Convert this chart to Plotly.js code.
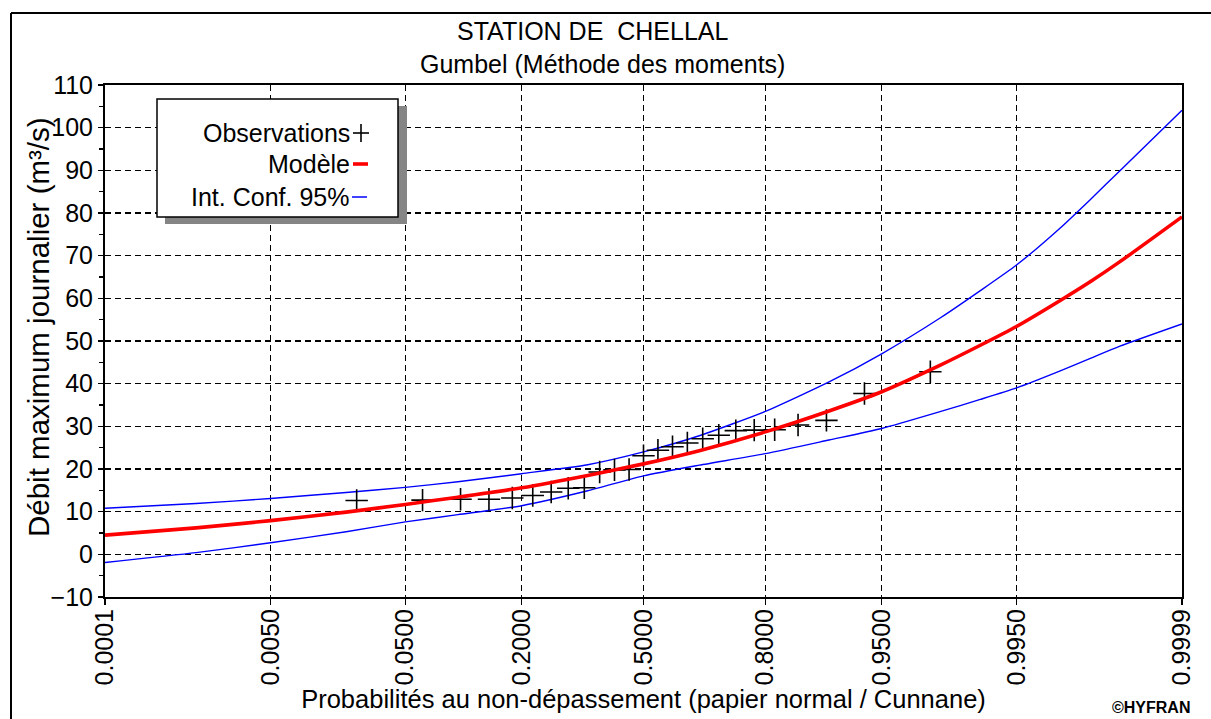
<!DOCTYPE html>
<html>
<head>
<meta charset="utf-8">
<script src="https://cdn.plot.ly/plotly-3.0.1.min.js"></script>
<style>
  html, body { margin: 0; padding: 0; background: #fff; }
  #chart { width: 1211px; height: 719px; }
</style>
</head>
<body>
<div id="chart"></div>
<script>
// ---------- DATA ----------
// x-axis tick probabilities and labels (normal probability paper)
const tickProbs  = [0.0001, 0.005, 0.05, 0.2, 0.5, 0.8, 0.95, 0.995, 0.9999];
const tickLabels = ["0.0001", "0.0050", "0.0500", "0.2000", "0.5000", "0.8000", "0.9500", "0.9950", "0.9999"];

// Observations (Cunnane plotting positions, n = 25) and annual max daily discharge (m3/s)
const obsProb = [0.0238, 0.0635, 0.1032, 0.1429, 0.1825, 0.2222, 0.2619, 0.3016, 0.3413, 0.3810,
                 0.4206, 0.4603, 0.5000, 0.5397, 0.5794, 0.6190, 0.6587, 0.6984, 0.7381, 0.7778,
                 0.8175, 0.8571, 0.8968, 0.9365, 0.9762];
const obsQ    = [12.6, 12.7, 12.9, 12.9, 13.2, 13.8, 14.6, 15.5, 15.6, 19.3,
                 19.8, 19.9, 23.1, 24.4, 25.2, 26.1, 27.1, 27.9, 29.0, 29.1,
                 29.2, 30.3, 31.4, 37.7, 42.8];

// Probabilities at which the model curve and the confidence band were read
const curveProb = [0.0001, 0.001, 0.005, 0.02, 0.05, 0.1, 0.2, 0.35, 0.5, 0.65,
                   0.8, 0.9, 0.95, 0.98, 0.99, 0.995, 0.998, 0.999, 0.9995, 0.9999];
const modelQ    = [4.5, 6.2, 7.9, 9.9, 11.7, 13.4, 15.6, 18.5, 21.2, 24.3,
                   28.7, 33.6, 38.1, 44.4, 49.0, 53.4, 59.5, 64.0, 68.6, 79.1];
const upperQ    = [10.8, 11.9, 13.1, 14.5, 15.7, 17.0, 18.9, 21.0, 24.0, 27.8,
                   33.5, 40.4, 47.0, 55.5, 61.8, 67.8, 76.5, 83.3, 89.9, 104.1];
const lowerQ    = [-1.9, 0.4, 2.7, 5.3, 7.6, 9.3, 11.4, 14.9, 18.4, 20.9,
                   23.6, 26.8, 29.5, 33.5, 36.3, 39.0, 43.0, 46.0, 48.8, 54.0];

// ---------- normal-probability scale (inverse standard normal CDF, Acklam) ----------
function probit(p) {
  const a = [-3.969683028665376e+01, 2.209460984245205e+02, -2.759285104469687e+02,
             1.383577518672690e+02, -3.066479806614716e+01, 2.506628277459239e+00];
  const b = [-5.447609879822406e+01, 1.615858368580409e+02, -1.556989798598866e+02,
             6.680131188771972e+01, -1.328068155288572e+01];
  const c = [-7.784894002430293e-03, -3.223964580411365e-01, -2.400758277161838e+00,
             -2.549732500573079e+00, 4.374664141464968e+00, 2.938163982698783e+00];
  const d = [7.784695709041462e-03, 3.224671290700398e-01, 2.445134137142996e+00,
             3.754408661907416e+00];
  const plow = 0.02425, phigh = 1 - plow;
  let q, r;
  if (p < plow) {
    q = Math.sqrt(-2 * Math.log(p));
    return (((((c[0]*q+c[1])*q+c[2])*q+c[3])*q+c[4])*q+c[5]) /
           ((((d[0]*q+d[1])*q+d[2])*q+d[3])*q+1);
  } else if (p <= phigh) {
    q = p - 0.5; r = q*q;
    return (((((a[0]*r+a[1])*r+a[2])*r+a[3])*r+a[4])*r+a[5])*q /
           (((((b[0]*r+b[1])*r+b[2])*r+b[3])*r+b[4])*r+1);
  } else {
    q = Math.sqrt(-2 * Math.log(1 - p));
    return -(((((c[0]*q+c[1])*q+c[2])*q+c[3])*q+c[4])*q+c[5]) /
            ((((d[0]*q+d[1])*q+d[2])*q+d[3])*q+1);
  }
}
const zs = arr => arr.map(probit);

// ---------- layout geometry helpers (pixel -> paper) ----------
const W = 1211, H = 719;
const M = {l: 105, r: 29, t: 85, b: 122};
const PW = W - M.l - M.r, PH = H - M.t - M.b;
const px = x => (x - M.l) / PW;
const py = y => (H - M.b - y) / PH;

const FONT = '"Liberation Sans", Arial, Helvetica, sans-serif';
const TXT = {family: FONT, size: 25, color: '#000'};

const traces = [
  {
    x: zs(curveProb), y: upperQ, type: 'scatter', mode: 'lines',
    line: {color: '#0000ff', width: 1.4, shape: 'spline', smoothing: 0.6},
    hoverinfo: 'skip', showlegend: false
  },
  {
    x: zs(curveProb), y: lowerQ, type: 'scatter', mode: 'lines',
    line: {color: '#0000ff', width: 1.4, shape: 'spline', smoothing: 0.6},
    hoverinfo: 'skip', showlegend: false
  },
  {
    x: zs(obsProb), y: obsQ, type: 'scatter', mode: 'markers',
    marker: {symbol: 'cross-thin', size: 16, color: '#000', line: {color: '#000', width: 1.6}},
    showlegend: false
  },
  {
    x: zs(curveProb), y: modelQ, type: 'scatter', mode: 'lines',
    line: {color: '#ff0000', width: 3.6, shape: 'spline', smoothing: 0.6},
    hoverinfo: 'skip', showlegend: false
  }
];

const zmin = probit(0.0001), zmax = probit(0.9999);

const L = (x0, y0, x1, y1, color, width) => ({
  type: 'line', xref: 'paper', yref: 'paper', layer: 'above',
  x0: px(x0), y0: py(y0), x1: px(x1), y1: py(y1), line: {color: color, width: width}
});

const shapes = [
  // outer frame (left and top edges)
  L(11, 13, W + 5, 13, '#000', 2),
  L(11, 13, 11, H + 5, '#000', 2),
  // legend shadow
  {type: 'rect', xref: 'paper', yref: 'paper', layer: 'above',
   x0: px(165), y0: py(106), x1: px(407), y1: py(224),
   fillcolor: '#858585', line: {width: 0}},
  // legend box
  {type: 'rect', xref: 'paper', yref: 'paper', layer: 'above',
   x0: px(157), y0: py(99), x1: px(398), y1: py(217),
   fillcolor: '#fff', line: {color: '#000', width: 1.5}},
  // legend symbols
  L(353, 133, 369, 133, '#000', 1.6),
  L(361, 124, 361, 142, '#000', 1.6),
  L(353, 164, 368, 164, '#ff0000', 3.6),
  L(352, 197, 367, 197, '#0000ff', 1.5)
];

const ann = (text, x, y, xanchor, font, angle) => ({
  text: text, xref: 'paper', yref: 'paper', x: px(x), y: py(y),
  xanchor: xanchor, yanchor: 'middle', showarrow: false, font: font,
  textangle: angle || 0
});

const annotations = [
  ann('STATION DE\u00a0\u00a0CHELLAL', 592, 31, 'center', TXT),
  ann('Gumbel (Méthode des moments)', 602, 64, 'center', TXT),
  ann('Observations', 352, 133, 'right', TXT),
  ann('Modèle', 352, 164, 'right', TXT),
  ann('Int. Conf. 95%', 351, 197, 'right', TXT),
  ann('Débit maximum journalier (m³/s)', 38, 327, 'center', {family: FONT, size: 29.5, color: '#000'}, -90),
  ann('<b>©HYFRAN</b>', 1192, 707, 'right', {family: FONT, size: 16, color: '#000'})
];

const layout = {
  width: W, height: H,
  margin: M,
  paper_bgcolor: '#fff', plot_bgcolor: '#fff',
  showlegend: false,
  font: TXT,
  xaxis: {
    range: [zmin, zmax],
    tickmode: 'array', tickvals: zs(tickProbs), ticktext: tickLabels,
    tickangle: -90,
    ticks: 'outside', ticklen: 6, tickwidth: 1.5, tickcolor: '#000',
    ticklabelstandoff: -6,
    showline: true, linecolor: '#000', linewidth: 2, mirror: true,
    showgrid: true, gridcolor: '#000', gridwidth: 1.6, griddash: '6px,4px',
    zeroline: false,
    tickfont: TXT,
    title: {text: 'Probabilités au non-dépassement (papier normal / Cunnane)',
            font: {family: FONT, size: 25.5, color: '#000'}, standoff: 2}
  },
  yaxis: {
    range: [-10, 110], tick0: -10, dtick: 10,
    ticks: 'outside', ticklen: 5, tickwidth: 1.5, tickcolor: '#000',
    minor: {dtick: 5, ticks: 'outside', ticklen: 4, tickwidth: 1.2, tickcolor: '#000', showgrid: false},
    showline: true, linecolor: '#000', linewidth: 2, mirror: true,
    showgrid: true, gridcolor: '#000', gridwidth: 1.6, griddash: '6px,4px',
    zeroline: false,
    tickfont: TXT
  },
  shapes: shapes,
  annotations: annotations
};

Plotly.newPlot('chart', traces, layout, {staticPlot: true, displayModeBar: false});
</script>
</body>
</html>
